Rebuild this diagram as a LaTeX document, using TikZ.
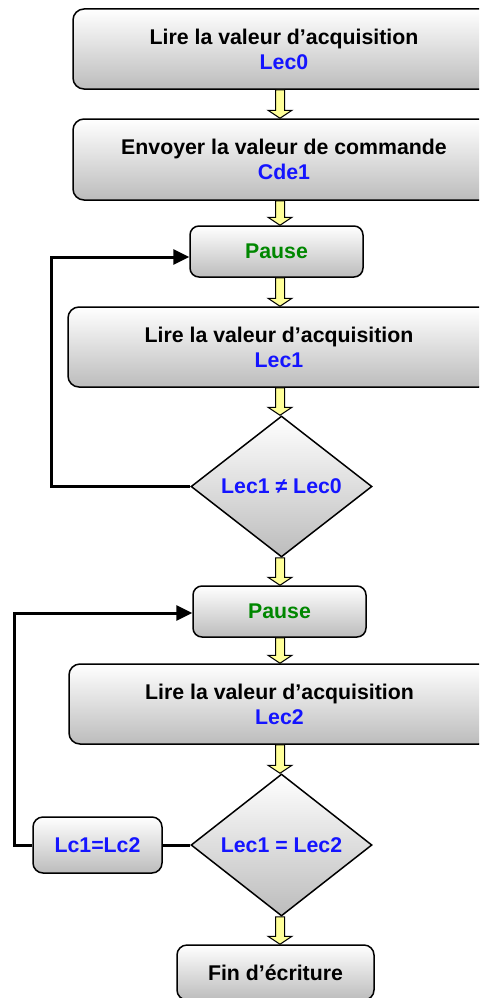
\documentclass[tikz,border=0pt]{standalone}
\usepackage{fontspec}
\setmainfont{Liberation Sans}
\usetikzlibrary{shapes.geometric,arrows.meta,calc}
\definecolor{tblue}{RGB}{20,20,255}
\definecolor{tgreen}{RGB}{0,135,0}
\definecolor{yfill}{RGB}{255,255,153}
\definecolor{sbot}{RGB}{188,188,188}
\newcommand\yblock[2]{%
  \path[yarrowst] let \p1=(#1.south -| ax), \p2=(#2.north -| ax) in
    (\x1-4.5pt,\y1) -- (\x1-4.5pt,\y2+8pt) -- (\x1-12pt,\y2+8pt) -- (\x1,\y2)
    -- (\x1+12pt,\y2+8pt) -- (\x1+4.5pt,\y2+8pt) -- (\x1+4.5pt,\y1) -- cycle;}
\begin{document}
\begin{tikzpicture}[x=1pt,y=-1pt,
  txt/.style={font=\bfseries\fontsize{21.3}{25}\selectfont},
  box/.style={txt, draw=black, line width=1.5pt, rounded corners=11pt,
    top color=white, bottom color=sbot, align=center, inner sep=0pt},
  dia/.style={txt, diamond, draw=black, line width=1.5pt, top color=white,
    bottom color=sbot, inner sep=0pt, text=tblue, aspect=1.28},
  loopline/.style={line width=3pt, -{Triangle[length=16pt,width=15pt]}},
  plainline/.style={line width=3pt},
  yarrowst/.style={draw=black, line width=1pt, fill=yfill, line join=miter}]
\useasboundingbox (0,0) rectangle (479,998);
\clip (0,0) rectangle (479,998);
\coordinate (ax) at (280,0);
\coordinate (l1) at (51,0);
\coordinate (l2) at (14,0);

\node[box, minimum width=422pt, minimum height=80pt] (b1) at (284,49)
  {Lire la valeur d’acquisition\\{\color{tblue}Lec0}};
\node[box, minimum width=422pt, minimum height=81pt] (b2) at (284,159.5)
  {Envoyer la valeur de commande\\{\color{tblue}Cde1}};
\node[box, rounded corners=9pt, minimum width=173pt, minimum height=51pt, text=tgreen] (p1) at (276.5,251.5)
  {Pause};
\node[box, minimum width=422pt, minimum height=80pt] (b3) at (279,347)
  {Lire la valeur d’acquisition\\{\color{tblue}Lec1}};
\node[dia, minimum width=181pt, minimum height=141pt] (d1) at (281.5,486.5)
  {Lec1 ≠ Lec0};
\node[box, rounded corners=9pt, minimum width=173pt, minimum height=51pt, text=tgreen] (p2) at (279.5,611.5)
  {Pause};
\node[box, minimum width=421pt, minimum height=80pt] (b4) at (279.5,704)
  {Lire la valeur d’acquisition\\{\color{tblue}Lec2}};
\node[dia, minimum width=181pt, minimum height=142pt] (d2) at (281.5,845)
  {Lec1 = Lec2};
\node[box, rounded corners=10pt, minimum width=129pt, minimum height=56pt, text=tblue] (lc) at (97.5,845)
  {Lc1=Lc2};
\node[box, rounded corners=10pt, minimum width=197pt, minimum height=55pt] (fin) at (275.5,972.5)
  {Fin d’écriture};

\yblock{b1}{b2}
\yblock{b2}{p1}
\yblock{p1}{b3}
\yblock{b3}{d1}
\yblock{d1}{p2}
\yblock{p2}{b4}
\yblock{b4}{d2}
\yblock{d2}{fin}

\draw[loopline] (d1.west) -- (d1.west -| l1) |- ([yshift=-5.5pt]p1.west);
\draw[plainline] (d2.west) -- (lc.east);
\draw[loopline] (lc.west) -- (lc.west -| l2) |- ([yshift=-1.5pt]p2.west);
\end{tikzpicture}
\end{document}
